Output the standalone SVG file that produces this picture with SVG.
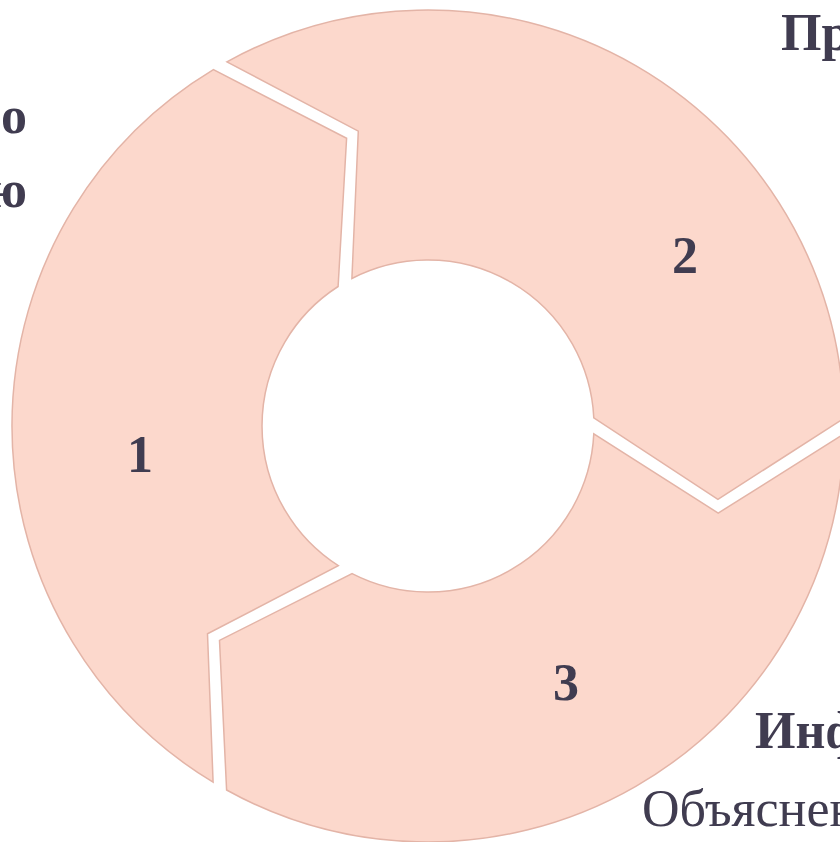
<svg xmlns="http://www.w3.org/2000/svg" width="840" height="842" viewBox="0 0 840 842">
<style>
.seg{fill:#fcd8cc;stroke:#e3b4a7;stroke-width:1.5;stroke-linejoin:miter}
.num{font-family:"Liberation Serif","Times New Roman",serif;font-weight:bold;font-size:52px;fill:#403c50;text-anchor:middle}
.lbl{font-family:"Liberation Serif","Times New Roman",serif;font-size:52px;fill:#403c50}
.b{font-weight:bold}
</style>
<rect width="840" height="842" fill="#ffffff"/>
<g id="step1">
<path class="seg" d="M213.1,782.2 L207.5,633.8 L338.3,565.7 A166,166 0 0 1 338.1,286.5 L346.6,138.3 L213.4,69.6 A416,416 0 0 0 213.1,782.2 Z"/>
<text class="num" x="140" y="472">1</text>
</g>
<g id="step2">
<path class="seg" d="M226.9,61.8 L358.3,131.1 L351.9,278.5 A166,166 0 0 1 593.8,417.9 L717.9,499.3 L843.9,418.4 A416,416 0 0 0 226.9,61.8 Z"/>
<text class="num" x="685" y="273">2</text>
</g>
<g id="step3">
<path class="seg" d="M843.9,434.0 L718.2,513.1 L593.8,433.8 A166,166 0 0 1 352.1,573.6 L219.5,640.4 L226.6,790.0 A416,416 0 0 0 843.9,434.0 Z"/>
<text class="num" x="566" y="700">3</text>
</g>
<g id="labels">
<text class="lbl b" x="27" y="133" text-anchor="end">о</text>
<text class="lbl b" x="27" y="207" text-anchor="end">ю</text>
<text class="lbl b" x="781" y="50">Пр</text>
<text class="lbl b" x="755" y="748">Инф</text>
<text class="lbl" x="642" y="826">Объяснен</text>
</g>
<g id="connectors"></g>
</svg>
